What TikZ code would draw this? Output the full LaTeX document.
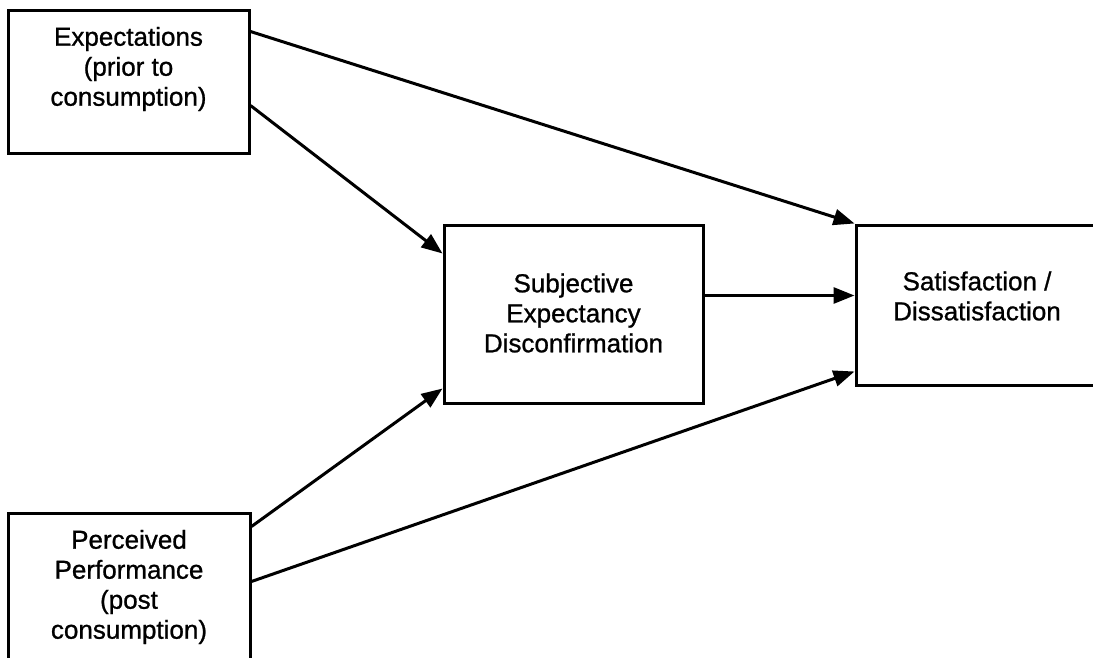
\documentclass[tikz,border=0pt]{standalone}
\usepackage{fontspec}
\setmainfont{Liberation Sans}[BoldFont=Liberation Sans, BoldFeatures={FakeBold=0.9}]
\usetikzlibrary{arrows.meta}
\begin{document}
\begin{tikzpicture}[x=1pt,y=-1pt,
  box/.style={draw=black, line width=3pt, fill=white, rectangle, inner sep=0pt},
  lbl/.style={align=center, inner sep=0pt, font=\fontsize{26}{30}\selectfont\bfseries},
  conn/.style={line width=3pt, -{Triangle[length=21pt,width=16pt]}}]
\useasboundingbox (0,0) rectangle (1093,658);
\clip (0,0) rectangle (1093,658);
\fill[white] (0,0) rectangle (1093,658);

% boxes
\node[box, minimum width=241pt, minimum height=143pt] (exp) at (128.5,82.5) {};
\node[box, minimum width=259pt, minimum height=178pt] (sub) at (573.5,314) {};
\node[box, minimum width=244pt, minimum height=160pt] (sat) at (978,305) {};
\node[box, minimum width=242pt, minimum height=187pt] (per) at (129,606.5) {};

% labels
\node[lbl] (exptxt) at (128.5,69) {Expectations\\(prior to\\consumption)};
\node[lbl] (subtxt) at (573.5,313) {Subjective\\Expectancy\\Disconfirmation};
\node[lbl] (sattxt) at (977,296) {Satisfaction /\\Dissatisfaction};
\node[lbl] (pertxt) at (129,587) {Perceived\\Performance\\(post\\consumption)};

% connectors
\draw[conn] ([yshift=-22pt]exp.north east) -- (sat.north west);
\draw[conn] ([yshift=-96pt]exp.north east) -- ([yshift=-30pt]sub.north west);
\draw[conn] ([yshift=-72pt]sub.north east) -- ([yshift=-72pt]sat.north west);
\draw[conn] ([yshift=-15pt]per.north east) -- ([yshift=16pt]sub.south west);
\draw[conn] ([yshift=-70pt]per.north east) -- ([yshift=15pt]sat.south west);
\end{tikzpicture}
\end{document}
